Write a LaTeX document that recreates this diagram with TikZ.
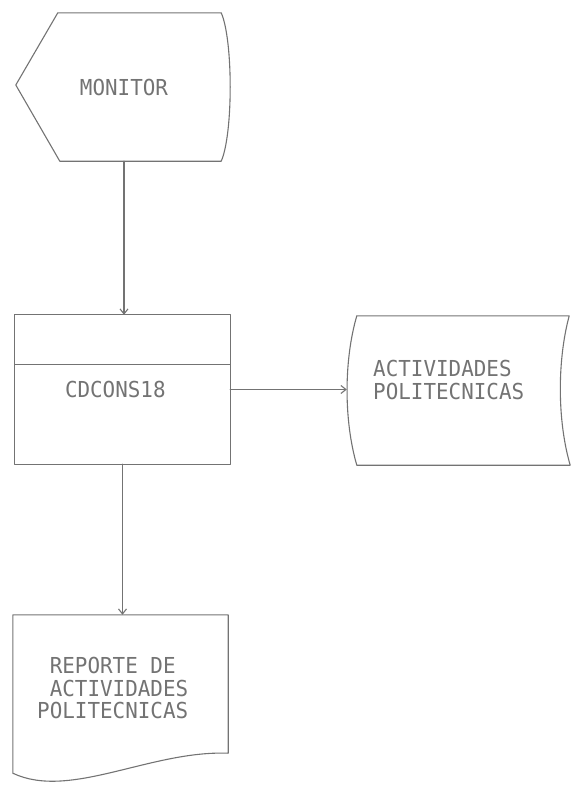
\documentclass[tikz,border=0pt]{standalone}
\usepackage{fontspec}
\usetikzlibrary{arrows.meta,calc}
\newfontfamily\plotfont[FakeStretch=0.95]{DejaVu Sans Mono}
\definecolor{ink}{gray}{0.45}
\tikzset{
  chartbox/.style={draw=none, inner sep=0pt},
  outline/.style={draw=ink, line width=1.1pt},
  flow/.style={->, draw=ink, line width=1.1pt}
}
\begin{document}
\begin{tikzpicture}[x=1pt, y=-1pt, line join=round, line cap=round, >={Straight Barb[length=5pt,width=8pt]},
    font=\plotfont\fontsize{22}{22.5}\selectfont, text=ink]
            \useasboundingbox (0,0) rectangle (571,785);
            \node[chartbox, minimum width=216pt, minimum height=148pt] (mon) at (124,87) {MONITOR};
            \node[chartbox, minimum width=215pt, minimum height=149pt, text width=115pt, align=left] (proc) at (122.5,389.5) {CDCONS18};
            \node[chartbox, minimum width=223pt, minimum height=149pt] (store) at (458.5,390.5) {};
            \node[chartbox, minimum width=215pt, minimum height=158pt] (rep) at (120.5,694) {};
            \node[chartbox, anchor=north west, align=left] (storetxt) at (373,360) {ACTIVIDADES\\POLITECNICAS};
            \node[chartbox, anchor=north west, align=left] (reptxt) at (37,657) {\hphantom{P}REPORTE DE\\\hphantom{P}ACTIVIDADES\\POLITECNICAS};
            % display
            \draw[outline] ($(mon.north west)+(42,0)$) -- ($(mon.north east)+(-11,0)$)
                .. controls ($(mon.east)+(1,-47)$) and ($(mon.east)+(1,47)$) .. ($(mon.south east)+(-11,0)$)
                -- ($(mon.south west)+(44,0)$) -- ($(mon.west)+(0,-2)$) -- cycle;
            % process
            \draw[outline] (proc.north west) rectangle (proc.south east);
            \draw[outline] ($(proc.north west)+(0,50)$) -- ($(proc.north east)+(0,50)$);
            % stored data
            \draw[outline] ($(store.north west)+(10,0)$) -- ($(store.north east)+(-1,0)$)
                .. controls ($(store.east)+(-13,-30)$) and ($(store.east)+(-13,30)$) .. (store.south east)
                -- ($(store.south west)+(10,0)$)
                .. controls ($(store.west)+(-3,30)$) and ($(store.west)+(-3,-30)$) .. ($(store.north west)+(10,0)$) -- cycle;
            % document
            \draw[outline] (rep.north west) -- (rep.north east) -- ($(rep.south east)+(0,-20)$)
                .. controls ($(rep.south east)+(-78,-23)$) and ($(rep.south west)+(57,27)$) .. (rep.south west) -- cycle;
            \draw[flow] (mon.south) -- (mon.south |- proc.north);
            \draw[flow] (proc.east) -- (proc.east -| store.west);
            \draw[flow] (proc.south) -- (proc.south |- rep.north);
        \end{tikzpicture}
\end{document}
